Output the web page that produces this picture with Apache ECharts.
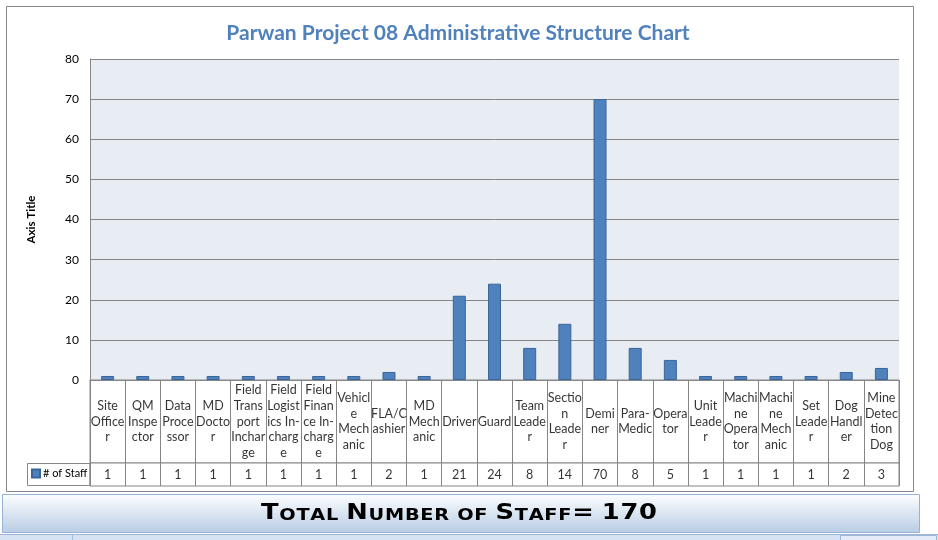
<!DOCTYPE html>
<html>
<head>
<meta charset="utf-8">
<script src="https://cdn.jsdelivr.net/npm/echarts@6/dist/echarts.min.js"></script>
<style>
html,body{margin:0;padding:0;background:#fff;}
#chart{width:938px;height:540px;}
</style>
</head>
<body>
<div id="chart"></div>
<script>
// ---- data ----
const chartTitle = 'Parwan Project 08 Administrative Structure Chart';
const axisTitle = 'Axis Title';
const seriesName = '# of Staff';
const categories = ['Site Officer','QM Inspector','Data Processor','MD Doctor','Field Transport Incharge','Field Logistics In-charge','Field Finance In-charge','Vehicle Mechanic','FLA/Cashier','MD Mechanic','Driver','Guard','Team Leader','Section Leader','Deminer','Para-Medic','Operator','Unit Leader','Machine Operator','Machine Mechanic','Set Leader','Dog Handler','Mine Detection Dog'];
const categoryLabels = ['Site\nOffice\nr','QM\nInspe\nctor','Data\nProce\nssor','MD\nDocto\nr','Field\nTrans\nport\nInchar\nge','Field\nLogist\nics In-\ncharg\ne','Field\nFinan\nce In-\ncharg\ne','Vehicl\ne\nMech\nanic','FLA/C\nashier','MD\nMech\nanic','Driver','Guard','Team\nLeade\nr','Sectio\nn\nLeade\nr','Demi\nner','Para-\nMedic','Opera\ntor','Unit\nLeade\nr','Machi\nne\nOpera\ntor','Machi\nne\nMech\nanic','Set\nLeade\nr','Dog\nHandl\ner','Mine\nDetec\ntion\nDog'];
const staff = [1,1,1,1,1,1,1,1,2,1,21,24,8,14,70,8,5,1,1,1,1,2,3];
const yMin = 0, yMax = 80, yInterval = 10;
const totalText = 'Total Number of Staff= ' + staff.reduce((a,b)=>a+b,0);

// ---- helpers ----
function smallCaps(str){
  let out = '';
  for (const ch of str){
    if (/[a-z]/.test(ch)) out += '{s|' + ch.toUpperCase() + '}';
    else if (ch === ' ') out += '{s| }';
    else out += '{b|' + ch + '}';
  }
  return out;
}

const FONT = 'Lato, "Open Sans", sans-serif';
const GRID_LINE = '#868686';

const chart = echarts.init(document.getElementById('chart'), null, {renderer:'canvas'});
const option = {
  animation: false,
  backgroundColor: '#ffffff',
  title: {
    text: chartTitle,
    left: 453,
    textAlign: 'center',
    top: 18,
    textStyle: {color:'#4F81BD', fontSize:21, fontWeight:'bold', fontFamily: FONT}
  },
  legend: {
    data: [seriesName],
    left: 31, top: 468,
    icon: 'rect', itemWidth: 8, itemHeight: 8, itemGap: 4,
    padding: 0,
    textStyle: {fontSize:11, color:'#000', fontFamily: FONT, padding:[0,0,0,-2]},
    selectedMode: false
  },
  grid: [
    {left:90, top:59, width:809, height:321, show:true, backgroundColor:'#E8ECF3', borderWidth:0},
    {left:90, top:380, width:809, height:83, show:true, backgroundColor:'#fff', borderColor:GRID_LINE, borderWidth:1},
    {left:90, top:463, width:809, height:23, show:true, backgroundColor:'#fff', borderColor:GRID_LINE, borderWidth:1}
  ],
  xAxis: [
    {type:'category', gridIndex:0, data:categories, axisLabel:{show:false}, axisTick:{show:false}, axisLine:{show:true, lineStyle:{color:GRID_LINE}}},
    {type:'category', gridIndex:1, data:categories, axisLabel:{show:false}, axisTick:{show:false}, axisLine:{show:false}, splitLine:{show:true, interval:0, lineStyle:{color:GRID_LINE}}},
    {type:'category', gridIndex:2, data:categories, axisLabel:{show:false}, axisTick:{show:false}, axisLine:{show:false}, splitLine:{show:true, interval:0, lineStyle:{color:GRID_LINE}}}
  ],
  yAxis: [
    {type:'value', gridIndex:0, min:yMin, max:yMax, interval:yInterval,
     axisLabel:{fontSize:12, color:'#000', margin:11, fontFamily: FONT},
     axisLine:{show:true, lineStyle:{color:GRID_LINE}}, axisTick:{show:false},
     splitLine:{show:true, lineStyle:{color:GRID_LINE}},
     name: axisTitle, nameLocation:'middle', nameGap:53, nameRotate:90,
     nameTextStyle:{fontSize:11.5, fontWeight:'bold', color:'#000', fontFamily: FONT}},
    {type:'category', gridIndex:1, data:['names'], show:false},
    {type:'category', gridIndex:2, data:[seriesName], show:false}
  ],
  series: [
    {name: seriesName, type:'bar', xAxisIndex:0, yAxisIndex:0, data: staff, barWidth:13,
     itemStyle:{color:'#4F81BD', borderColor:'#3A6599', borderWidth:1}, silent:true},
    {name:'labels', type:'scatter', xAxisIndex:1, yAxisIndex:1, symbolSize:1, silent:true,
     itemStyle:{color:'rgba(0,0,0,0)'},
     data: categories.map(c => [c, 'names']),
     label:{show:true, position:'inside', color:'#000', fontSize:12.5, lineHeight:15.6, fontFamily: FONT, align:'center', verticalAlign:'middle',
       formatter: p => categoryLabels[p.dataIndex]}},
    {name:'values', type:'scatter', xAxisIndex:2, yAxisIndex:2, symbolSize:1, silent:true,
     itemStyle:{color:'rgba(0,0,0,0)'},
     data: categories.map(c => [c, seriesName]),
     label:{show:true, position:'inside', color:'#000', fontSize:12.5, fontFamily: FONT, align:'center', verticalAlign:'middle',
       formatter: p => String(staff[p.dataIndex])}}
  ],
  graphic: [
    {type:'rect', z:-10, shape:{x:6.5, y:6.5, width:907, height:485}, style:{fill:'none', stroke:'#868686', lineWidth:1}, silent:true},
    {type:'rect', shape:{x:27.5, y:463.5, width:62.5, height:22}, style:{fill:'none', stroke:GRID_LINE, lineWidth:1}, silent:true},
    {type:'rect', shape:{x:2.5, y:494.5, width:917, height:38},
     style:{fill:new echarts.graphic.LinearGradient(0,0,0,1,[{offset:0,color:'#FDFEFF'},{offset:1,color:'#B8CCE4'}]), stroke:'#95B3D7', lineWidth:1}, silent:true},
    {type:'rect', shape:{x:0, y:534, width:938, height:6}, style:{fill:'#D5E3F5'}, silent:true},
    {type:'rect', shape:{x:0, y:534, width:938, height:1}, style:{fill:'#9DB6D6'}, silent:true},
    {type:'rect', shape:{x:72, y:535, width:1, height:5}, style:{fill:'#A9BFDB'}, silent:true},
    {type:'rect', shape:{x:840.5, y:535.5, width:96, height:6}, style:{fill:'#E3ECF8', stroke:'#9DB6D6', lineWidth:1}, silent:true},
    {type:'text', x:459, y:512, scaleX:1.17, silent:true,
     style:{text: smallCaps(totalText), textAlign:'center', textVerticalAlign:'middle',
       rich:{
         b:{fontSize:22, fontWeight:'bold', fontFamily:'"DejaVu Sans", sans-serif', fill:'#000', verticalAlign:'bottom', lineHeight:24, padding:[0,0.3,0,0.3]},
         s:{fontSize:16.5, fontWeight:'bold', fontFamily:'"DejaVu Sans", sans-serif', fill:'#000', verticalAlign:'bottom', lineHeight:24, padding:[0,0.3,0,0.3]}
       }}}
  ]
};
chart.setOption(option);
</script>
</body>
</html>
